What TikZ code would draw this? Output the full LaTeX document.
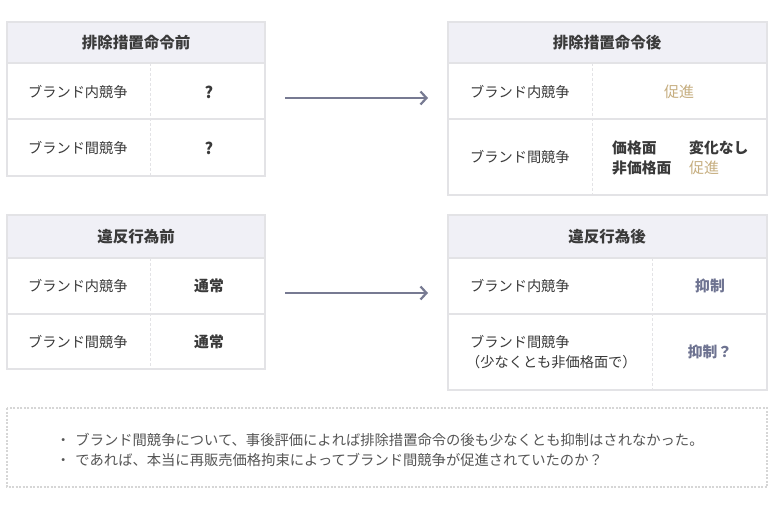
\documentclass[tikz,border=0pt]{standalone}
\usepackage{fontspec}
\setmainfont{Noto Sans CJK JP}
\usetikzlibrary{arrows.meta}
\definecolor{hdr}{HTML}{F0F0F6}
\definecolor{bd}{HTML}{E3E3E6}
\definecolor{txt}{HTML}{3A3A3A}
\definecolor{gold}{HTML}{C6AE80}
\definecolor{supp}{HTML}{6E7391}
\definecolor{arrc}{HTML}{777A92}
\definecolor{note}{HTML}{D6D6D6}
\definecolor{notetxt}{HTML}{555555}
\tikzset{
  frame/.style={draw=bd, line width=1.5pt},
  hdrfill/.style={fill=hdr},
  rowline/.style={draw=bd, line width=2pt},
  divline/.style={draw=bd, line width=1pt, dash pattern=on 3pt off 2pt},
  hdrtxt/.style={font=\fontsize{15.5}{18}\selectfont\bfseries, text=txt, inner sep=0pt},
  lbl/.style={font=\fontsize{14.2}{17}\selectfont, text=txt, inner sep=0pt, anchor=west},
  val/.style={font=\fontsize{14.8}{17}\selectfont\bfseries, text=txt, inner sep=0pt},
  arr/.style={draw=arrc, line width=2.5pt, -{Straight Barb[length=6pt,width=13pt,line width=2.2pt]}},
  notebox/.style={draw=note, line width=2pt, dash pattern=on 2pt off 1.5pt},
  notetext/.style={font=\fontsize{14.3}{17}\selectfont, text=notetxt, inner sep=0pt, anchor=west}
}
\begin{document}
\begin{tikzpicture}[x=1pt,y=-1pt]
\useasboundingbox[fill=white] (0,0) rectangle (774,513);

% ---------- Table 1 (top-left)
\fill[hdrfill] (7,22) rectangle (265,63);
\draw[rowline] (7,63) -- (265,63);
\draw[rowline] (7,119) -- (265,119);
\draw[divline] (150,63) -- (150,176);
\draw[frame] (7,22) rectangle (265,176);
\node[hdrtxt] (h1) at (136,43) {排除措置命令前};
\node[lbl] (t1l1) at (28,92) {ブランド内競争};
\node[val, font=\fontsize{16}{18}\selectfont\bfseries] (t1v1) at (209,92) {?};
\node[lbl] (t1l2) at (28,148) {ブランド間競争};
\node[val, font=\fontsize{16}{18}\selectfont\bfseries] (t1v2) at (209,148) {?};

% ---------- Table 2 (top-right)
\fill[hdrfill] (448,22) rectangle (767,63);
\draw[rowline] (448,63) -- (767,63);
\draw[rowline] (448,119) -- (767,119);
\draw[divline] (592,63) -- (592,195);
\draw[frame] (448,22) rectangle (767,195);
\node[hdrtxt] (h2) at (607,43) {排除措置命令後};
\node[lbl] (t2l1) at (470,92) {ブランド内競争};
\node[val, text=gold, font=\fontsize{15}{17}\selectfont] (t2v1) at (679,92) {促進};
\node[lbl] (t2l2) at (470,157) {ブランド間競争};
\node[val, anchor=west] (t2a) at (612,148) {価格面};
\node[val, anchor=west] (t2b) at (689,148) {変化なし};
\node[val, anchor=west] (t2c) at (612,168) {非価格面};
\node[val, anchor=west, text=gold, font=\fontsize{15}{17}\selectfont] (t2d) at (689,168) {促進};

% ---------- Table 3 (bottom-left)
\fill[hdrfill] (7,215) rectangle (265,258);
\draw[rowline] (7,258) -- (265,258);
\draw[rowline] (7,314) -- (265,314);
\draw[divline] (150,258) -- (150,369);
\draw[frame] (7,215) rectangle (265,369);
\node[hdrtxt] (h3) at (136,237) {違反行為前};
\node[lbl] (t3l1) at (28,286) {ブランド内競争};
\node[val] (t3v1) at (209,286) {通常};
\node[lbl] (t3l2) at (28,342) {ブランド間競争};
\node[val] (t3v2) at (209,342) {通常};

% ---------- Table 4 (bottom-right)
\fill[hdrfill] (448,215) rectangle (767,258);
\draw[rowline] (448,258) -- (767,258);
\draw[rowline] (448,314) -- (767,314);
\draw[divline] (652,258) -- (652,390);
\draw[frame] (448,215) rectangle (767,390);
\node[hdrtxt] (h4) at (607,237) {違反行為後};
\node[lbl] (t4l1) at (470,286) {ブランド内競争};
\node[val, text=supp] (t4v1) at (710,286) {抑制};
\node[lbl] (t4l2) at (470,342) {ブランド間競争};
\node[lbl] (t4l3) at (466,362) {（少なくとも非価格面で）};
\node[val, text=supp] (t4v2) at (710,352) {抑制？};

% ---------- arrows
\coordinate (a1s) at (285,98);
\coordinate (a1e) at (428,98);
\coordinate (a2s) at (285,293);
\coordinate (a2e) at (428,293);
\draw[arr] (a1s) -- (a1e);
\draw[arr] (a2s) -- (a2e);

% ---------- note box
\draw[notebox] (7,408) rectangle (767,487);
\node[notetext] (n1) at (56,440) {・\hspace{5pt}ブランド間競争について、事後評価によれば排除措置命令の後も少なくとも抑制はされなかった。};
\node[notetext] (n2) at (56,460) {・\hspace{5pt}であれば、本当に再販売価格拘束によってブランド間競争が促進されていたのか？};
\end{tikzpicture}
\end{document}
